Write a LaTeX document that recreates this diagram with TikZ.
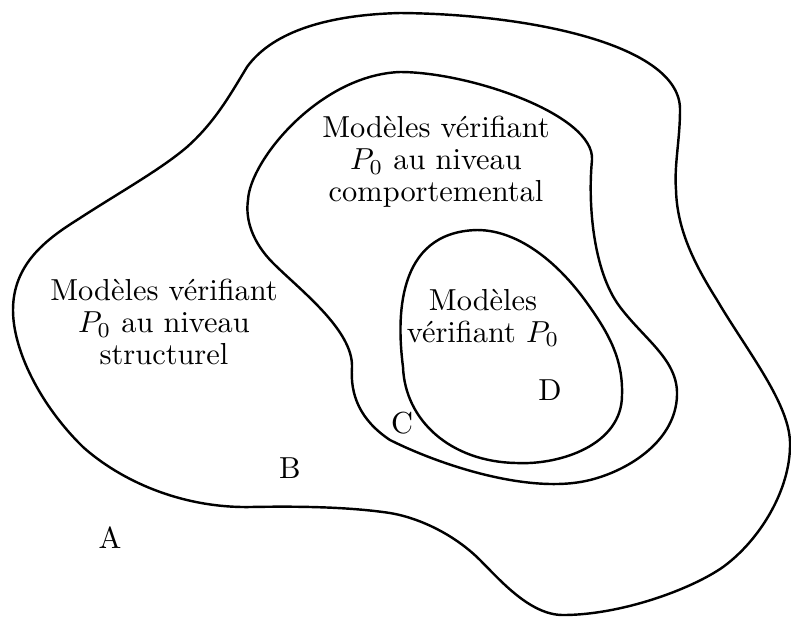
\documentclass[tikz,border=0pt]{standalone}
\usepackage{amsmath,amssymb}
\usepackage{tikz}
\usetikzlibrary{positioning,calc}

\begin{document}
\begin{tikzpicture}[
    x=0.329pt, y=-0.329pt,
    blob/.style={draw, line width=0.8pt},
    lbl/.style={align=center, font=\fontsize{10pt}{10.5pt}\selectfont},
    pt/.style={font=\fontsize{10pt}{10.5pt}\selectfont}
]
\useasboundingbox (0,0) rectangle (791,619);

% Outer region (structurel)
\draw[blob] (400,13)
    .. controls (530,14) and (681,45) .. (680,110)
    .. controls (680,140) and (674,165) .. (676,190)
    .. controls (677,230) and (695,265) .. (717,300)
    .. controls (747,351) and (791,405) .. (790,445)
    .. controls (790,490) and (760,540) .. (723,567)
    .. controls (690,590) and (620,615) .. (563,615)
    .. controls (530,615) and (500,580) .. (480,560)
    .. controls (455,535) and (420,518) .. (390,513)
    .. controls (350,507) and (300,506) .. (250,507)
    .. controls (180,508) and (120,480) .. (83,447)
    .. controls (40,405) and (13,350) .. (13,310)
    .. controls (13,265) and (45,240) .. (77,220)
    .. controls (120,192) and (160,170) .. (187,147)
    .. controls (215,122) and (230,95) .. (247,67)
    .. controls (270,35) and (320,15) .. cycle;

% Middle region (comportemental)
\draw[blob] (400,72)
    .. controls (470,72) and (595,115) .. (592,160)
    .. controls (588,200) and (592,270) .. (620,307)
    .. controls (645,340) and (678,360) .. (677,395)
    .. controls (676,440) and (630,470) .. (590,480)
    .. controls (530,495) and (440,465) .. (390,440)
    .. controls (360,420) and (350,395) .. (352,367)
    .. controls (353,330) and (300,290) .. (273,263)
    .. controls (253,243) and (245,220) .. (248,200)
    .. controls (250,160) and (320,75) .. cycle;

% Inner region (P0)
\draw[blob] (477,230)
    .. controls (520,230) and (560,265) .. (587,303)
    .. controls (610,335) and (623,360) .. (622,395)
    .. controls (622,445) and (560,465) .. (517,463)
    .. controls (450,462) and (405,420) .. (403,367)
    .. controls (397,320) and (395,232) .. cycle;

% Labels
\node[lbl] (struct) at (164,322) {Modèles vérifiant\\$P_0$ au niveau\\structurel};
\node[lbl] (comport) at (436,162) {Modèles vérifiant\\$P_0$ au niveau\\comportemental};
\node[lbl] (verif) at (483,318) {Modèles\\vérifiant $P_0$};

% Points
\node[pt] (A) at (110,538) {A};
\node[pt] (B) at (290,468) {B};
\node[pt] (C) at (402,423) {C};
\node[pt] (D) at (550,390) {D};

\end{tikzpicture}
\end{document}
